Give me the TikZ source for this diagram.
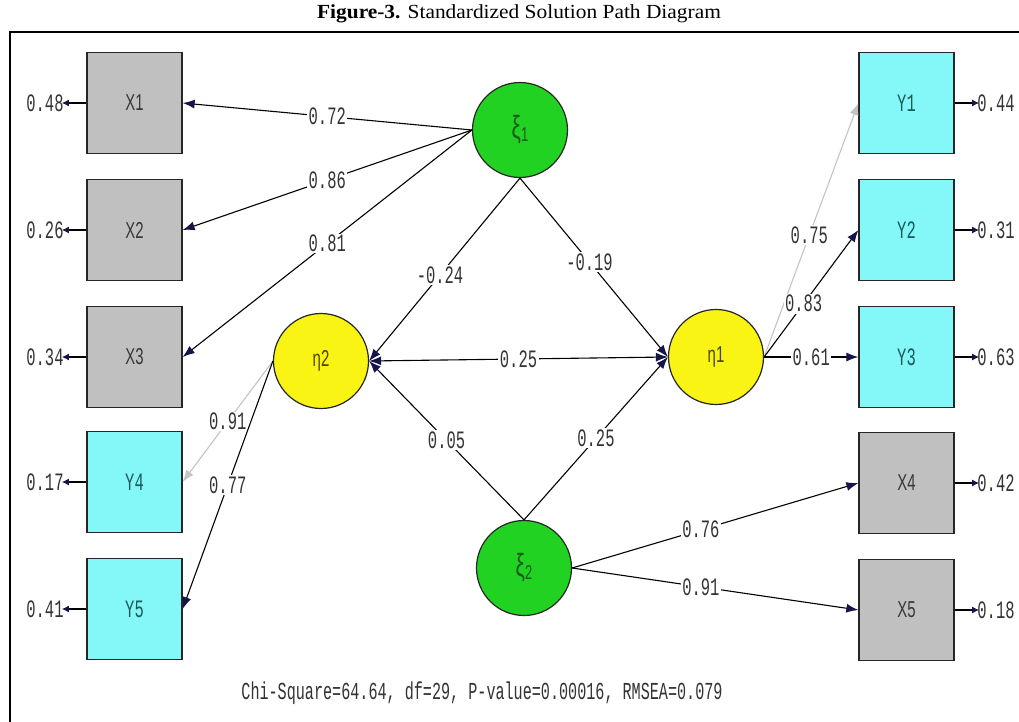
\documentclass[tikz,border=0pt]{standalone}
\usepackage{fontspec}
\usetikzlibrary{arrows.meta}
\newfontfamily\numfont[FakeStretch=0.62]{Liberation Mono}
\newfontfamily\boxfont[FakeStretch=0.65]{Liberation Sans}
\newfontfamily\titlefont[FakeStretch=1.07]{Liberation Serif}
\definecolor{navyc}{HTML}{15154A}
\definecolor{boxgrey}{HTML}{C0C0C0}
\definecolor{boxcyan}{HTML}{84F8F8}
\definecolor{circgreen}{HTML}{22D222}
\definecolor{circyellow}{HTML}{FAF414}
\definecolor{xlab}{HTML}{383838}
\definecolor{ylab}{HTML}{1E5A5A}
\definecolor{xigreen}{HTML}{1A5A1A}
\definecolor{etaolive}{HTML}{4A4400}
\definecolor{lightline}{HTML}{C4C4C4}
\tikzset{
  vbox/.style={draw=black!85, line width=1.3pt, minimum width=95pt, minimum height=101pt, inner sep=0pt},
  xbox/.style={vbox, fill=boxgrey, font=\boxfont\fontsize{23}{23}\selectfont, text=xlab},
  ybox/.style={vbox, fill=boxcyan, font=\numfont\fontsize{25}{25}\selectfont, text=ylab},
  lat/.style={circle, draw=black!85, line width=1.2pt, minimum size=95pt, inner sep=0pt, font=\boxfont\fontsize{23}{23}\selectfont},
  conn/.style={draw=black, line width=1.1pt, -{Latex[length=12pt,width=9pt,color=navyc]}},
  lconn/.style={draw=lightline, line width=1.1pt, -{Latex[length=12pt,width=9pt,color=lightline]}},
  errarr/.style={draw=black, line width=1.4pt, -{Latex[length=7pt,width=7pt,color=navyc]}},
  lbl/.style={fill=white, inner sep=1.5pt, font=\numfont\fontsize{25}{25}\selectfont, text=black!80},
  errlbl/.style={inner sep=0pt, font=\numfont\fontsize{25}{25}\selectfont, text=black!80},
}
\begin{document}
\begin{tikzpicture}[x=1pt,y=-1pt]
\useasboundingbox (0,0) rectangle (1019,722);
\fill[white] (0,0) rectangle (1019,722);
% title
\node (title) at (519,14) {\titlefont\fontsize{20}{20}\selectfont\textbf{Figure-3.} Standardized Solution Path Diagram};
% frame
\draw[line width=1.5pt] (10,760) -- (10,32) -- (1060,32);
% left boxes
\node[xbox] (X1) at (134.5,103) {X1};
\node[xbox] (X2) at (134.5,230) {X2};
\node[xbox] (X3) at (134.5,357) {X3};
\node[ybox] (Y4) at (134.5,482) {Y4};
\node[ybox] (Y5) at (134.5,609) {Y5};
% right boxes
\node[ybox] (Y1) at (906.5,103) {Y1};
\node[ybox] (Y2) at (906.5,230) {Y2};
\node[ybox] (Y3) at (906.5,357) {Y3};
\node[xbox] (X4) at (906.5,483) {X4};
\node[xbox] (X5) at (906.5,610) {X5};
% error values
\node[errlbl] (eX1) at (45,103) {0.48};
\node[errlbl] (eX2) at (45,230) {0.26};
\node[errlbl] (eX3) at (45,357) {0.34};
\node[errlbl] (eY4) at (45,482) {0.17};
\node[errlbl] (eY5) at (45,609) {0.41};
\node[errlbl] (eY1) at (996,103) {0.44};
\node[errlbl] (eY2) at (996,230) {0.31};
\node[errlbl] (eY3) at (996,357) {0.63};
\node[errlbl] (eX4) at (996,483) {0.42};
\node[errlbl] (eX5) at (996,610) {0.18};
\foreach \b in {X1,X2,X3,Y4,Y5}{\draw[errarr] (\b.west) -- ([xshift=-2pt]e\b.east);}
\foreach \b in {Y1,Y2,Y3,X4,X5}{\draw[errarr] (\b.east) -- ([xshift=2pt]e\b.west);}
% latent variables
\node[lat, fill=circgreen, text=xigreen] (xi1) at (520,130) {{\fontsize{32}{32}\selectfont ξ}\raisebox{-3pt}{\fontsize{20}{20}\selectfont 1}};
\node[lat, fill=circyellow, text=etaolive] (eta2) at (321,361) {η2};
\node[lat, fill=circyellow, text=etaolive] (eta1) at (716,357) {η1};
\node[lat, fill=circgreen, text=xigreen] (xi2) at (524,568) {{\fontsize{32}{32}\selectfont ξ}\raisebox{-3pt}{\fontsize{20}{20}\selectfont 2}};
% paths
\draw[conn] (xi1.west) -- node[lbl, pos=0.5] {0.72} (X1.east);
\draw[conn] (xi1.west) -- node[lbl, pos=0.5] {0.86} (X2.east);
\draw[conn] (xi1.west) -- node[lbl, pos=0.5] {0.81} (X3.east);
\draw[conn] (xi1.south) -- node[lbl, pos=0.53] {-0.24} (eta2.east);
\draw[conn] (xi1.south) -- node[lbl, pos=0.47] {-0.19} (eta1.west);
\draw[conn, {Latex[length=12pt,width=9pt,color=navyc]}-{Latex[length=12pt,width=9pt,color=navyc]}] (eta2.east) -- node[lbl, pos=0.5] {0.25} (eta1.west);
\draw[conn] (xi2.north) -- node[lbl, pos=0.5] {0.05} (eta2.east);
\draw[conn] (xi2.north) -- node[lbl, pos=0.5] {0.25} (eta1.west);
\draw[conn] (xi2.east) -- node[lbl, pos=0.45] {0.76} (X4.west);
\draw[conn] (xi2.east) -- node[lbl, pos=0.45] {0.91} (X5.west);
\draw[lconn] (eta1.east) -- node[lbl, pos=0.48] {0.75} (Y1.west);
\draw[conn] (eta1.east) -- node[lbl, pos=0.42] {0.83} (Y2.west);
\draw[conn] (eta1.east) -- node[lbl, pos=0.5] {0.61} (Y3.west);
\draw[lconn] (eta2.west) -- node[lbl, pos=0.5] {0.91} (Y4.east);
\draw[conn] (eta2.west) -- node[lbl, pos=0.5] {0.77} (Y5.east);
% fit statistics
\node[errlbl, font=\numfont\fontsize{24.4}{24.4}\selectfont] (fit) at (482,693) {Chi-Square=64.64, df=29, P-value=0.00016, RMSEA=0.079};
\end{tikzpicture}
\end{document}
